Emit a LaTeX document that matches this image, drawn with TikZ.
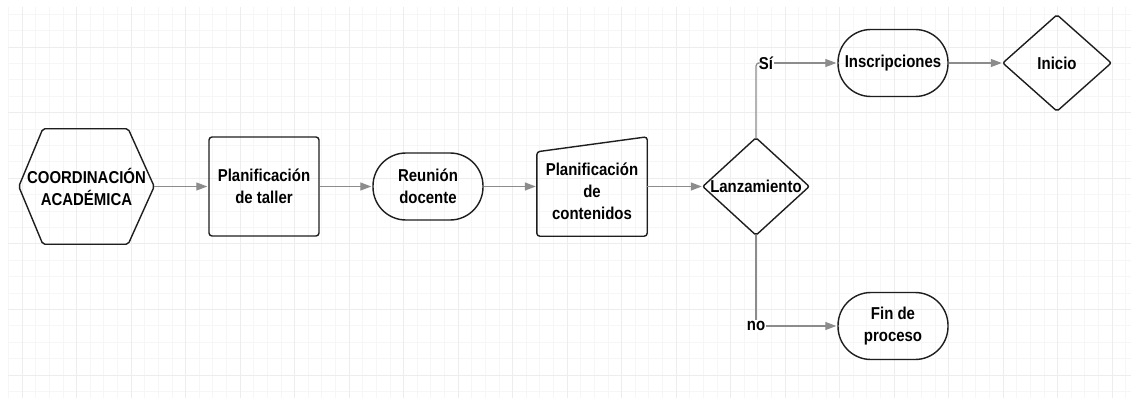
\documentclass[tikz,border=0pt]{standalone}
\usepackage{fontspec}
\setmainfont{Liberation Sans}[FakeStretch=0.87]
\usetikzlibrary{arrows.meta}
\definecolor{gridminor}{HTML}{F6F6F6}
\definecolor{gridmajor}{HTML}{EDEDED}
\definecolor{arrowgray}{HTML}{8C8C8C}
\definecolor{outline}{HTML}{1E1E1E}
\begin{document}
\begin{tikzpicture}[x=1pt,y=-1pt,
  lbl/.style={font=\bfseries\fontsize{17.2}{22}\selectfont, align=center, text=black},
  shapeline/.style={draw=outline, line width=1.4pt},
  holder/.style={lbl, inner sep=0pt},
  stadium/.style={lbl, shapeline, rounded corners=33pt, minimum width=110pt, minimum height=67pt, inner sep=0pt},
  procbox/.style={lbl, shapeline, rounded corners=3pt, minimum width=110pt, minimum height=99pt, inner sep=0pt},
  conn/.style={draw=arrowgray, line width=1.2pt},
  arrow/.style={conn, -{Triangle[length=11pt,width=8pt]}, shorten >=1pt},
  branchlbl/.style={lbl, fill=white, inner sep=1pt}
]
\useasboundingbox (0,0) rectangle (1131,398);
\fill[white] (0,0) rectangle (1131,398);
% grid
\foreach \gx in {8.4,22.025,...,1131} \draw[gridminor, line width=0.8pt] (\gx,7) -- (\gx,398);
\foreach \gy in {14.2,30.6,...,398} \draw[gridminor, line width=0.8pt] (8,\gy) -- (1131,\gy);
\foreach \gx in {22,76.5,...,1131} \draw[gridmajor, line width=0.9pt] (\gx,7) -- (\gx,398);
\foreach \gy in {47,112.6,...,398} \draw[gridmajor, line width=0.9pt] (8,\gy) -- (1131,\gy);

% hexagon
\node[holder, minimum width=135pt, minimum height=115pt] (hex) at (86.5,186.5) {COORDINACIÓN\\ACADÉMICA};
\draw[shapeline, rounded corners=2pt] (hex.west) -- ([xshift=24pt]hex.north west) -- ([xshift=-26pt]hex.north east) -- (hex.east) -- ([xshift=-26pt]hex.south east) -- ([xshift=24pt]hex.south west) -- cycle;

\node[procbox] (taller) at (264,186.5) {Planificación\\de taller};
\node[stadium] (reunion) at (428,186.5) {Reunión\\docente};

\node[holder, minimum width=110pt, minimum height=99pt,
  label={[lbl, yshift=-5pt]center:{Planificación\\de\\contenidos}}] (cont) at (592,186.5) {};
\draw[shapeline, rounded corners=3pt] ([yshift=-15pt]cont.north west) -- (cont.north east) -- (cont.south east) -- (cont.south west) -- cycle;

\node[holder, minimum width=106pt, minimum height=97pt] (lanz) at (756,186.5) {Lanzamiento};
\draw[shapeline, rounded corners=2pt] (lanz.west) -- (lanz.north) -- (lanz.east) -- (lanz.south) -- cycle;

\node[stadium] (insc) at (893,63) {Inscripciones};
\node[holder, minimum width=108pt, minimum height=96pt] (inicio) at (1057,63) {Inicio};
\draw[shapeline, rounded corners=2pt] (inicio.west) -- (inicio.north) -- (inicio.east) -- (inicio.south) -- cycle;

\node[stadium] (fin) at (893,326) {Fin de\\proceso};

\node[branchlbl] (si) at (766,63) {Sí};
\node[branchlbl] (no) at (756,326) {no};

% connectors
\draw[arrow] (hex.east) -- (taller.west);
\draw[arrow] (taller.east) -- (reunion.west);
\draw[arrow] (reunion.east) -- (cont.west);
\draw[arrow] (cont.east) -- (lanz.west);
\draw[conn, rounded corners=3pt] (lanz.north) |- (si.west);
\draw[arrow] (si.east) -- (insc.west);
\draw[arrow] (insc.east) -- (inicio.west);
\draw[conn] (lanz.south) -- (no.north);
\draw[arrow] (no.east) -- (fin.west);
\end{tikzpicture}
\end{document}
